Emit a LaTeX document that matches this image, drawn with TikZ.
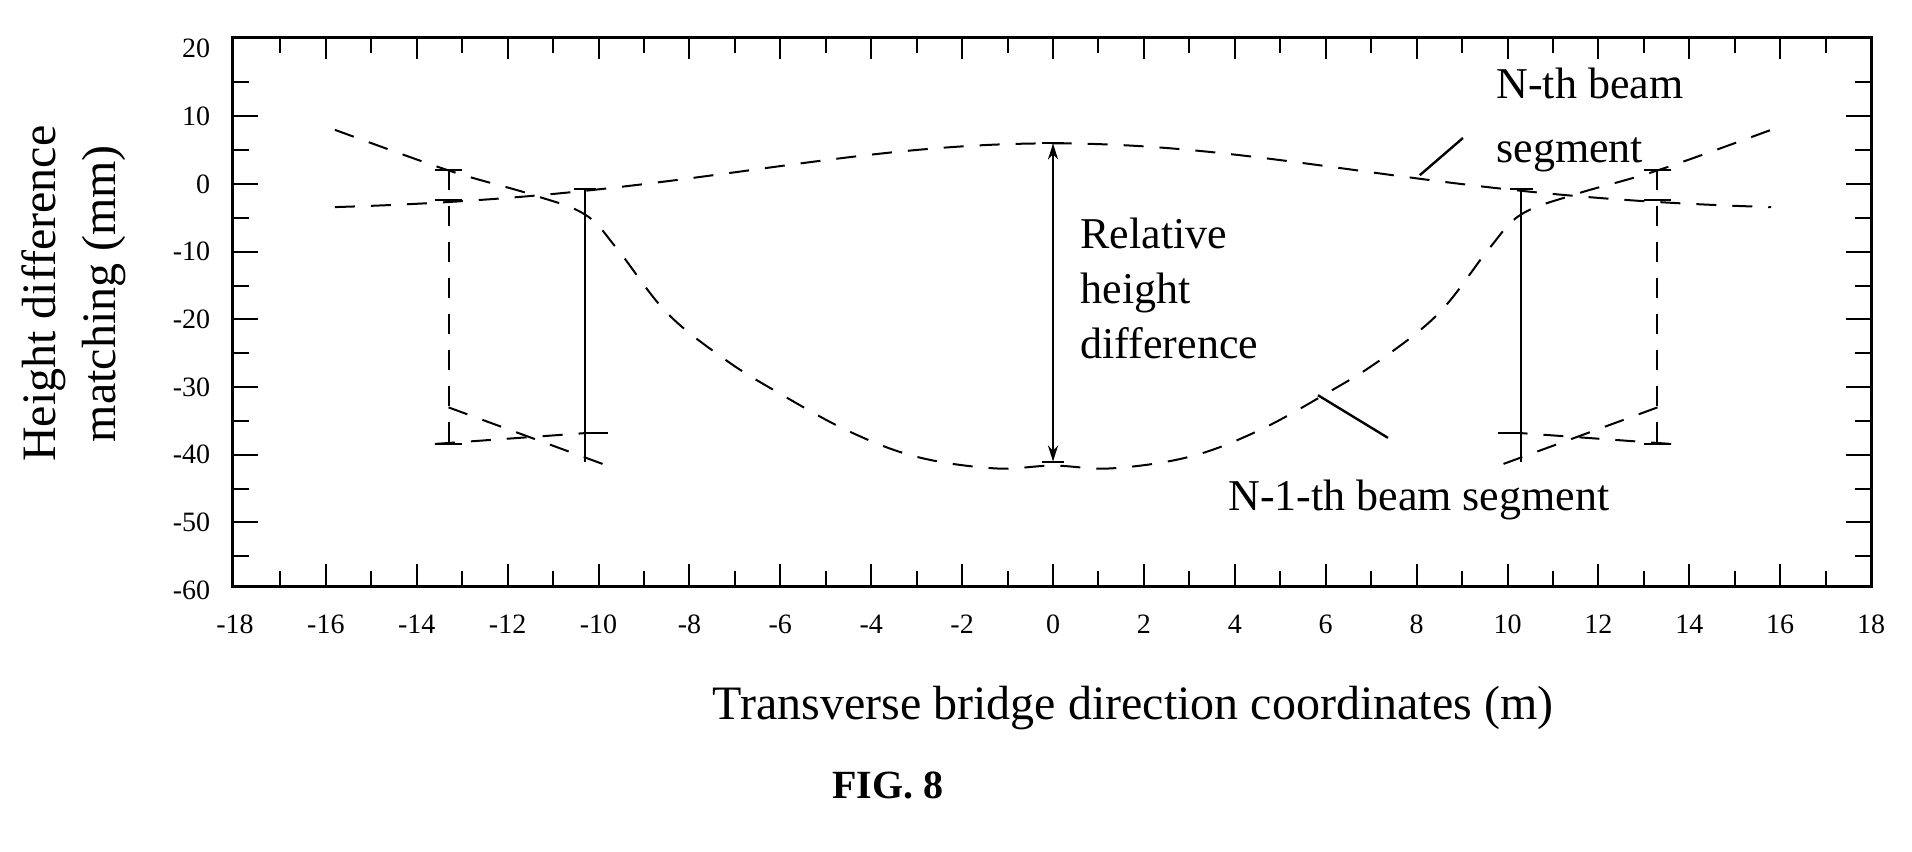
\documentclass[tikz,border=0pt]{standalone}
\usepackage{fontspec}
\setmainfont{Liberation Serif}
\usetikzlibrary{arrows.meta}
\begin{document}
\begin{tikzpicture}[x=22.725pt,y=3.385pt,
  curve/.style={line width=1pt,dash pattern=on 10pt off 8pt},
  axisline/.style={line width=1.6pt},
  tk/.style={line width=1pt},
  ticklab/.style={font=\fontsize{14}{14}\selectfont},
  ann/.style={font=\fontsize{22}{27.5}\selectfont,align=left},
  axlab/.style={font=\fontsize{24}{30}\selectfont}]
\useasboundingbox (-23.17,27.18) rectangle (18.90,-98.67);
% frame
\draw[axisline] (-18.05,21.6) rectangle (18.0,-59.4);
% x ticks
\foreach \v in {-17,-16,...,17}{
  \pgfmathtruncatemacro{\ev}{mod(abs(\v),2)}
  \ifnum\ev=0
    \draw[tk] (\v,-59.4) -- ++(0,3.2); \draw[tk] (\v,21.6) -- ++(0,-3.2);
  \else
    \draw[tk] (\v,-59.4) -- ++(0,2.2); \draw[tk] (\v,21.6) -- ++(0,-2.2);
  \fi}
\foreach \v in {-18,-16,...,18}{\node[ticklab] (xl\v) at (\v,-65.1) {\v};}
% y ticks
\foreach \v in {-55,-50,...,15}{
  \pgfmathtruncatemacro{\ev}{mod(abs(\v),10)}
  \ifnum\ev=0
    \draw[tk] (-18.05,\v) -- ++(0.55,0); \draw[tk] (18.0,\v) -- ++(-0.55,0);
  \else
    \draw[tk] (-18.05,\v) -- ++(0.35,0); \draw[tk] (18.0,\v) -- ++(-0.35,0);
  \fi}
\foreach \v in {-60,-50,...,20}{\node[ticklab,anchor=east] (yl\v) at (-18.39,\v) {\v};}
% N-th beam segment curve
\draw[curve] plot[domain=-15.8:15.8,samples=80,smooth] (\x,{-4+10*exp(-(\x)^2/88)});
% N-1-th beam segment curve
\draw[curve] plot[smooth,tension=0.6] coordinates {(-15.8,8) (-13.3,2) (-11.5,-1.5) (-10.3,-4.5) (-9.6,-9.5) (-8.5,-19) (-7.2,-26) (-6,-31) (-4.5,-36.5) (-3,-40.3) (-1.3,-42) (0,-41.6) (1.3,-42) (3,-40.3) (4.5,-36.5) (6,-31) (7.2,-26) (8.5,-19) (9.6,-9.5) (10.3,-4.5) (11.5,-1.5) (13.3,2) (15.8,8)};
% shifted copies and measuring lines, both sides
\foreach \s in {-1,1}{
  \draw[curve] (\s*13.3,-33) -- (\s*9.85,-41.5);
  \draw[curve] (\s*13.6,-38.4) -- (\s*10.3,-36.8);
  \draw[curve] (\s*13.3,2) -- (\s*13.3,-38.4);
  \draw[tk] (\s*13.6,-38.4) -- (\s*13.0,-38.4);
  \draw[tk] (\s*13.6,-2.4) -- (\s*13.0,-2.4);
  \draw[tk] (\s*13.6,2) -- (\s*13.0,2);
  \draw[tk,line width=1.2pt] (\s*10.3,-0.7) -- (\s*10.3,-41);
  \draw[tk] (\s*10.55,-0.7) -- (\s*10.05,-0.7);
  \draw[tk] (\s*10.3,-36.8) -- (\s*9.8,-36.8);
}
% relative height arrow
\coordinate (rt) at (0,6);
\coordinate (rb) at (0,-41);
\draw[line width=1.4pt,{Stealth[length=8pt,width=5pt]}-{Stealth[length=8pt,width=5pt]}] (rt) -- (rb);
\draw[tk] (-0.25,6) -- (0.25,6);
\draw[tk] (-0.25,-41) -- (0.25,-41);
% labels
\node[ann,anchor=west] (rel) at (0.45,-15.4) {Relative\\height\\difference};
\node[ann,anchor=west,font=\fontsize{22}{32}\selectfont] (nth) at (9.6,9.4) {N-th beam\\segment};
\node[ann,anchor=west] (nm1) at (3.7,-46.7) {N-1-th beam segment};
\coordinate (l1a) at (9.02,6.8); \coordinate (l1b) at (8.07,1.3);
\coordinate (l2a) at (5.83,-31.2); \coordinate (l2b) at (7.37,-37.5);
\draw[line width=1.2pt] (l1a) -- (l1b);
\draw[line width=1.2pt] (l2a) -- (l2b);
\node[axlab] (xlab) at (1.76,-77.4) {Transverse bridge direction coordinates (m)};
\node[axlab,rotate=90,align=center] (ylab) at (-21.55,-16.2) {Height difference\\matching (mm)};
\node[font=\fontsize{20}{24}\selectfont\bfseries] (fig) at (-3.63,-88.8) {FIG. 8};
\end{tikzpicture}
\end{document}
